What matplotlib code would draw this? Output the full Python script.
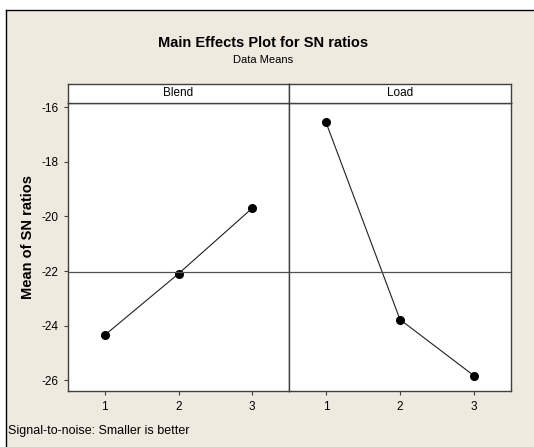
import matplotlib.pyplot as plt
from matplotlib.patches import Rectangle
from matplotlib.lines import Line2D

# data
levels = [1, 2, 3]
blend_sn = [-24.35, -22.10, -19.70]
load_sn = [-16.55, -23.78, -25.84]
factors = ["Blend", "Load"]
grand_mean = -22.05
yticks = [-16, -18, -20, -22, -24, -26]

plt.rcParams["axes.unicode_minus"] = False
narrow = ["Liberation Sans Narrow", "Liberation Sans", "DejaVu Sans"]
bg = "#eeeae0"

W, H = 534, 447
fig = plt.figure(figsize=(W / 100, H / 100), dpi=100)
fig.patch.set_facecolor("white")

# beige frame with top/left rule
fig.patches.append(Rectangle((6 / W, 0), 1, 1 - 10 / H, transform=fig.transFigure,
                             facecolor=bg, edgecolor="none", zorder=-5))
fig.lines.append(Line2D([6 / W, 1], [1 - 10 / H, 1 - 10 / H], transform=fig.transFigure,
                        color="black", lw=1.0, zorder=-4))
fig.lines.append(Line2D([6 / W, 6 / W], [0, 1 - 10 / H], transform=fig.transFigure,
                        color="black", lw=1.0, zorder=-4))

fig.text(263 / W, 1 - 43 / H, "Main Effects Plot for SN ratios", ha="center", va="center",
         fontsize=10.5, fontweight="bold", family=narrow)
fig.text(263 / W, 1 - 60 / H, "Data Means", ha="center", va="center",
         fontsize=8, family=narrow)
fig.text(8 / W, 1 - 431 / H, "Signal-to-noise: Smaller is better", ha="left", va="center",
         fontsize=9, family=narrow)
fig.text(28 / W, 1 - 237 / H, "Mean of SN ratios", ha="center", va="center",
         rotation=90, fontsize=10.5, fontweight="bold", family=["Liberation Sans", "DejaVu Sans"])

x0, xm, x1 = 68, 289, 511
y_top, y_bot, strip_top = 103, 391, 84
panels = [(x0, xm), (xm, x1)]
series = [blend_sn, load_sn]

for i, ((l, r), vals, name) in enumerate(zip(panels, series, factors)):
    ax = fig.add_axes([l / W, 1 - y_bot / H, (r - l) / W, (y_bot - y_top) / H])
    ax.set_facecolor("white")
    ax.plot(levels, vals, color="#202020", lw=0.8, marker="o", markersize=5.5,
            markerfacecolor="black", markeredgecolor="black")
    ax.axhline(grand_mean, color="#505050", lw=0.9)
    ax.set_xlim(0.5, 3.5)
    ax.set_ylim(-26.40, -15.84)
    ax.set_xticks(levels)
    ax.set_yticks(yticks)
    ax.tick_params(direction="out", length=3, width=0.8, color="#404040",
                   labelsize=8.5, pad=4)
    for lab in ax.get_xticklabels() + ax.get_yticklabels():
        lab.set_family(narrow)
    if i > 0:
        ax.tick_params(axis="y", left=False, labelleft=False)
    for sp in ax.spines.values():
        sp.set_color("#404040")
        sp.set_linewidth(1.0)

    sax = fig.add_axes([l / W, 1 - y_top / H, (r - l) / W, (y_top - strip_top) / H])
    sax.set_facecolor("white")
    sax.set_xticks([])
    sax.set_yticks([])
    for sp in sax.spines.values():
        sp.set_color("#404040")
        sp.set_linewidth(1.0)
    sax.text(0.5, 0.5, name, ha="center", va="center", fontsize=8.5,
             family=narrow, transform=sax.transAxes)

fig.savefig("out.png", dpi=100, facecolor=fig.get_facecolor())
